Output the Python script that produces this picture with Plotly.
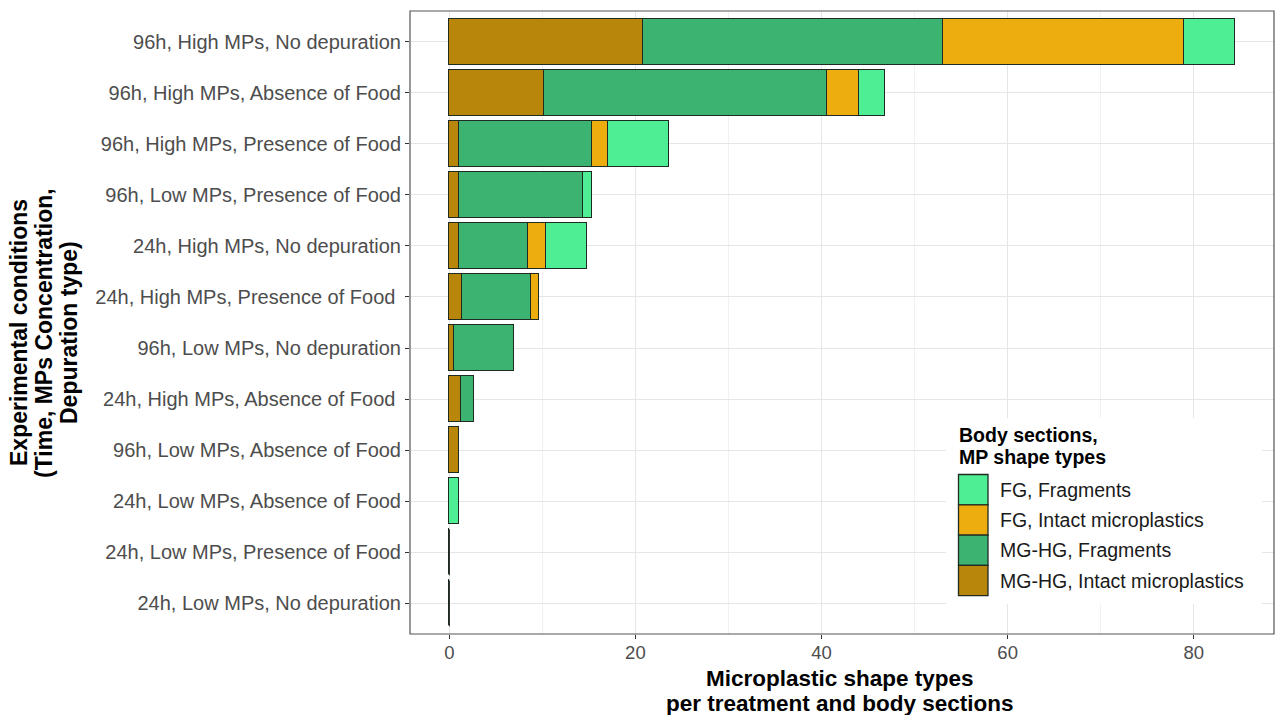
import plotly.graph_objects as go

# Experimental conditions, listed top to bottom
conditions = [
    "96h, High MPs, No depuration",
    "96h, High MPs, Absence of Food",
    "96h, High MPs, Presence of Food",
    "96h, Low MPs, Presence of Food",
    "24h, High MPs, No depuration",
    "24h, High MPs, Presence of Food\u00a0",
    "96h, Low MPs, No depuration",
    "24h, High MPs, Absence of Food\u00a0",
    "96h, Low MPs, Absence of Food",
    "24h, Low MPs, Absence of Food",
    "24h, Low MPs, Presence of Food",
    "24h, Low MPs, No depuration",
]

# Microplastic counts per body section and shape type
mghg_intact = [20.8, 10.2, 1.0, 1.0, 1.0, 1.4, 0.5, 1.3, 1.0, 0.0, 0.0, 0.0]
mghg_fragments = [32.2, 30.4, 14.3, 13.35, 7.5, 7.4, 6.5, 1.4, 0.0, 0.0, 0.0, 0.0]
fg_intact = [26.0, 3.4, 1.8, 0.0, 1.9, 0.8, 0.0, 0.0, 0.0, 0.0, 0.0, 0.0]
fg_fragments = [5.4, 2.8, 6.5, 1.0, 4.35, 0.0, 0.0, 0.0, 0.0, 1.0, 0.0, 0.0]

# Stacking order (left to right) and legend order (top to bottom)
series = [
    ("MG-HG, Intact microplastics", mghg_intact, "#B8860B"),
    ("MG-HG, Fragments", mghg_fragments, "#3CB371"),
    ("FG, Intact microplastics", fg_intact, "#EEAD0E"),
    ("FG, Fragments", fg_fragments, "#4EEE94"),
]
legend_order = [3, 2, 1, 0]
legend_title = ["Body sections,", "MP shape types"]

x_title = ["Microplastic shape types", "per treatment and body sections"]
y_title = ["Experimental conditions", "(Time, MPs Concentration,", "Depuration type)"]
x_ticks = [0, 20, 40, 60, 80]

FONT = "Liberation Sans, Arial, sans-serif"
n = len(conditions)
ypos = [n - 1 - i for i in range(n)]
bar_width = 0.9
outline = "#1E2A22"

fig = go.Figure()
for name, vals, color in series:
    fig.add_trace(go.Bar(
        x=vals, y=ypos, orientation="h", name=name, width=bar_width,
        marker=dict(color=color, line=dict(color=outline, width=1.3)),
        showlegend=False,
    ))

# Rows with no particles still show the bar outline as a thin line at zero
totals = [sum(s[1][i] for s in series) for i in range(n)]
zx, zy = [], []
for i in range(n):
    if totals[i] == 0:
        zx += [0, 0, None]
        zy += [ypos[i] - bar_width / 2, ypos[i] + bar_width / 2, None]
fig.add_trace(go.Scatter(x=zx, y=zy, mode="lines",
                         line=dict(color=outline, width=1.3),
                         showlegend=False, hoverinfo="skip"))

xmax = max(totals)
pad = 0.05 * xmax

# Panel geometry in pixels (used for titles and legend block placement)
W, H = 1275, 715
L, R, T, B = 410, 1, 11, 81
pw, ph = W - L - R, H - T - B


def px_x(x):
    return (x - L) / pw


def px_y(y):
    return (H - B - y) / ph


shapes = []
annotations = []

# Axis titles
for k, line in enumerate(x_title):
    annotations.append(dict(xref="paper", yref="paper", x=px_x(840), y=px_y(678 + 25 * k),
                            xanchor="center", yanchor="middle", showarrow=False,
                            text="<b>%s</b>" % line,
                            font=dict(family=FONT, size=22.5, color="#000000")))
for k, line in enumerate(y_title):
    annotations.append(dict(xref="paper", yref="paper", x=px_x(19 + 25 * k), y=px_y(333),
                            xanchor="center", yanchor="middle", showarrow=False,
                            textangle=-90, text="<b>%s</b>" % line,
                            font=dict(family=FONT, size=23, color="#000000")))

# Legend block
shapes.append(dict(type="rect", xref="paper", yref="paper", layer="above",
                   x0=px_x(946), x1=px_x(1262), y0=px_y(604), y1=px_y(418),
                   fillcolor="white", line=dict(width=0)))
for k, line in enumerate(legend_title):
    annotations.append(dict(xref="paper", yref="paper", x=px_x(957), y=px_y(435 + 22 * k),
                            xanchor="left", yanchor="middle", showarrow=False,
                            text="<b>%s</b>" % line,
                            font=dict(family=FONT, size=19.5, color="#000000")))
key_top, key_h, key_left, key_w = 474.5, 30.3, 958.5, 29.5
for k, idx in enumerate(legend_order):
    name, _, color = series[idx]
    y0 = key_top + k * key_h
    shapes.append(dict(type="rect", xref="paper", yref="paper", layer="above",
                       x0=px_x(key_left), x1=px_x(key_left + key_w),
                       y0=px_y(y0 + key_h), y1=px_y(y0),
                       fillcolor=color, line=dict(color=outline, width=1.3)))
    annotations.append(dict(xref="paper", yref="paper", x=px_x(998),
                            y=px_y(y0 + key_h / 2), xanchor="left", yanchor="middle",
                            text=name, showarrow=False,
                            font=dict(family=FONT, size=19.5, color="#1A1A1A")))

# Panel border
shapes.append(dict(type="rect", xref="paper", yref="paper", layer="above",
                   x0=0, x1=1, y0=0, y1=1, line=dict(color="#555555", width=1.2)))

fig.update_layout(
    width=W, height=H,
    margin=dict(l=L, r=R, t=T, b=B),
    barmode="stack",
    bargap=0,
    plot_bgcolor="white",
    paper_bgcolor="white",
    font=dict(family=FONT, color="#4D4D4D"),
    shapes=shapes,
    annotations=annotations,
    xaxis=dict(
        range=[-pad, xmax + pad],
        tickvals=x_ticks,
        ticks="outside", ticklen=4, tickcolor="#333333",
        ticklabelstandoff=-2,
        tickfont=dict(size=18.5, color="#4D4D4D"),
        showgrid=True, gridcolor="#E6E6E6", gridwidth=1.1,
        minor=dict(dtick=10, tick0=0, showgrid=True, gridcolor="#F1F1F1", gridwidth=0.6),
        zeroline=False, showline=False,
    ),
    yaxis=dict(
        range=[-0.6, n - 1 + 0.6],
        tickvals=ypos, ticktext=conditions,
        ticks="outside", ticklen=4, tickcolor="#333333",
        tickfont=dict(size=20, color="#4D4D4D"),
        showgrid=True, gridcolor="#E6E6E6", gridwidth=1.1,
        zeroline=False, showline=False,
    ),
)

fig.write_html("out.html")
